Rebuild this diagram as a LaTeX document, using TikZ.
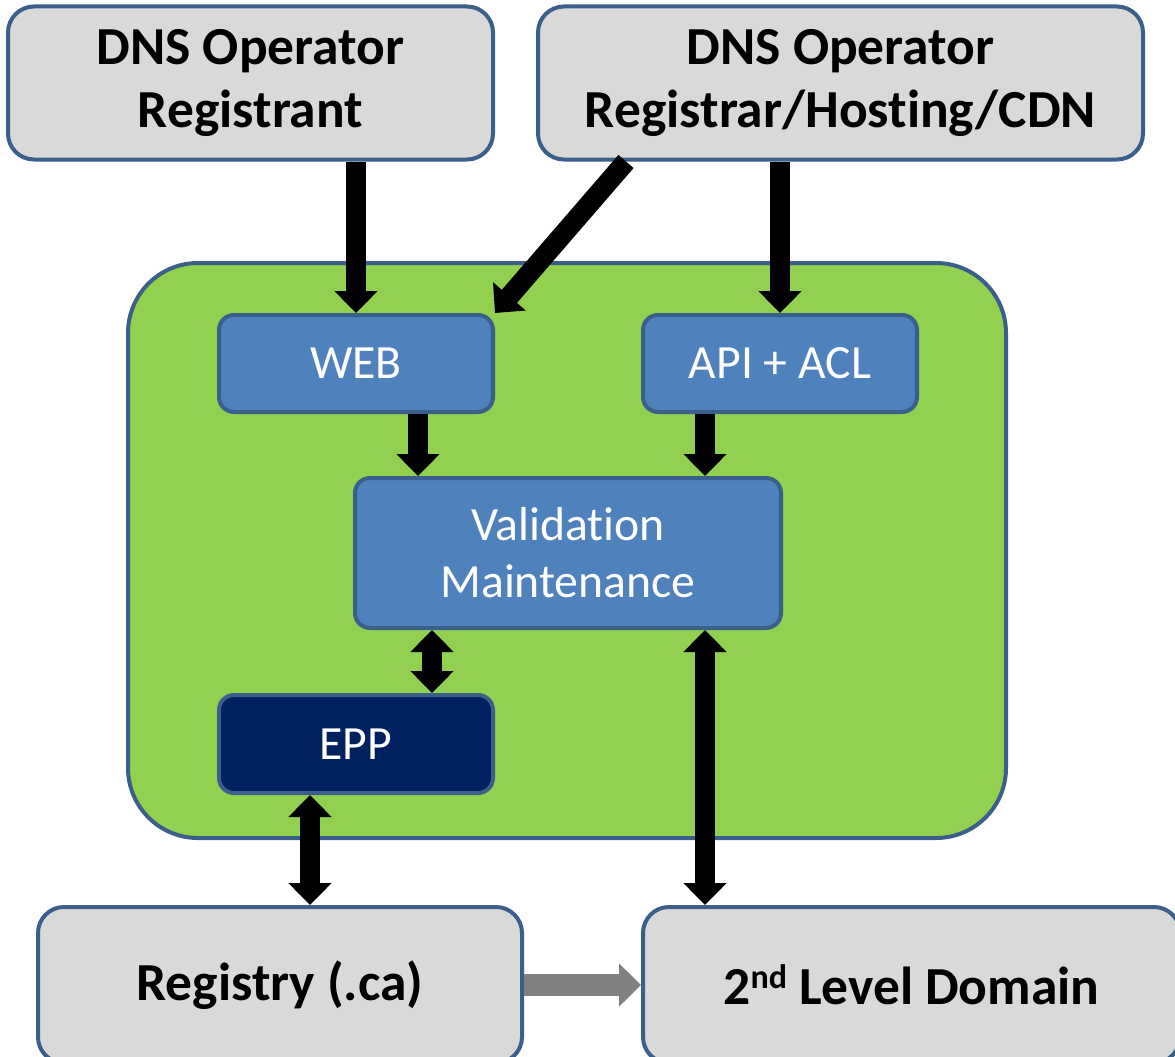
\documentclass[tikz,border=0pt]{standalone}
\usepackage{fontspec}
\setmainfont{Carlito}[Ligatures=CommonOff]
\usepackage{tikz}
\usetikzlibrary{arrows.meta,positioning,calc}
\definecolor{myframe}{RGB}{58,95,139}
\definecolor{mygray}{RGB}{217,217,217}
\definecolor{mygreen}{RGB}{146,208,80}
\definecolor{myblue}{RGB}{79,129,189}
\definecolor{mynavy}{RGB}{0,32,96}
\definecolor{myarrow}{RGB}{128,128,128}
\tikzstyle{party}=[draw=myframe,fill=mygray,line width=4pt,rounded corners=26pt,align=center,inner sep=0pt,font=\fontsize{53.5}{63}\selectfont\bfseries]
\tikzstyle{module}=[draw=myframe,fill=myblue,line width=4pt,rounded corners=15pt,align=center,inner sep=0pt,text=white,font=\fontsize{47.7}{57}\selectfont]
\tikzstyle{flow}=[line width=20pt,-{Triangle[width=42pt,length=22pt]}]
\tikzstyle{flows}=[line width=20pt,{Triangle[width=42pt,length=22pt]}-{Triangle[width=42pt,length=22pt]}]

\begin{document}
\begin{tikzpicture}[x=1pt,y=-1pt]
\useasboundingbox (0,0) rectangle (1175,1057);
% service block
\node [draw=myframe,fill=mygreen,line width=4pt,rounded corners=70pt,minimum width=878pt,minimum height=575pt] (srv) at (567,550.5) {};
% operators
\node [party,minimum width=485pt,minimum height=153pt] (rgt) at (250.5,83) {DNS Operator\\Registrant};
\node [party,minimum width=605pt,minimum height=153pt] (rar) at (840.5,83) {DNS Operator\\Registrar/Hosting/CDN};
% modules
\node [module,minimum width=274pt,minimum height=97pt] (web) at (356,363.5) {WEB};
\node [module,minimum width=274pt,minimum height=97pt] (api) at (780,363.5) {API + ACL};
\node [module,minimum width=426pt,minimum height=150pt] (val) at (568,553) {Validation\\Maintenance};
\node [module,fill=mynavy,minimum width=274pt,minimum height=98pt] (epp) at (356,744) {EPP};
% registry side
\node [party,minimum width=484pt,minimum height=156pt] (reg) at (280,985) {Registry (.ca)};
\node [party,minimum width=537pt,minimum height=156pt] (sld) at (911.5,985) {2\raisebox{0.3em}{\fontsize{34}{34}\selectfont nd} Level Domain};

\draw [flow] (web.north |- rgt.south) -- (web.north);
\draw [flow] ([xshift=90pt]rar.south west) -- (web.north east);
\draw [flow] (api.north |- rar.south) -- (api.north);
\draw [flow] ([xshift=62pt]web.south) -- ([xshift=62pt]web.south |- val.north);
\draw [flow] ([xshift=-75pt]api.south) -- ([xshift=-75pt]api.south |- val.north);
\draw [flows] ([xshift=76pt]epp.north |- val.south) -- ([xshift=76pt]epp.north);
\draw [flows] ([xshift=-46pt]epp.south) -- ([xshift=-46pt]epp.south |- reg.north);
\draw [flows] ([xshift=-75pt]api.south |- val.south) -- ([xshift=-75pt]api.south |- sld.north);
\draw [flow,draw=myarrow,line width=22pt] (reg.east) -- (sld.west);
\end{tikzpicture}
\end{document}
